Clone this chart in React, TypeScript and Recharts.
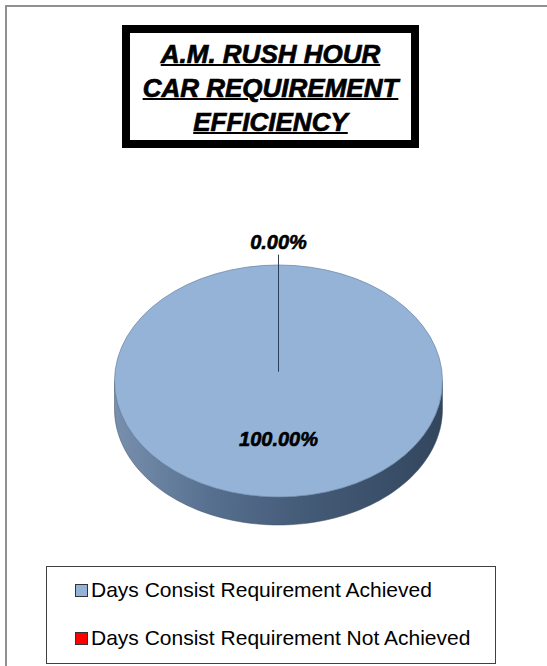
import React from "react";
import { PieChart, Pie, Cell, Legend } from "recharts";

const categories = [
  "Days Consist Requirement Achieved",
  "Days Consist Requirement Not Achieved",
];
const values = [100, 0];
const colors = ["#95B3D7", "#FF0000"];
const titleLines = ["A.M. RUSH HOUR", "CAR REQUIREMENT", "EFFICIENCY"];

const data = categories.map((name, i) => ({ name, value: values[i] }));

const FONT = '"Liberation Sans", Arial, sans-serif';
const TILT = 116 / 164;
const DEPTH = 28;
const RAD = Math.PI / 180;

function pt(cx: number, cy: number, r: number, a: number): [number, number] {
  return [cx + r * Math.cos(-a * RAD), cy + r * TILT * Math.sin(-a * RAD)];
}

// elliptical sector with a 3D side band for the front half
function EllipseSector(props: any) {
  const { cx, cy, outerRadius: r, startAngle, endAngle, fill } = props;
  const span = Math.abs(endAngle - startAngle);
  const ry = r * TILT;
  let top: string;
  if (span >= 359.99) {
    top = `M${cx - r},${cy} A${r},${ry} 0 1 1 ${cx + r},${cy} A${r},${ry} 0 1 1 ${cx - r},${cy} Z`;
  } else if (span < 0.01) {
    return null;
  } else {
    const [x1, y1] = pt(cx, cy, r, startAngle);
    const [x2, y2] = pt(cx, cy, r, endAngle);
    const large = span > 180 ? 1 : 0;
    const sweep = endAngle < startAngle ? 1 : 0;
    top = `M${cx},${cy} L${x1},${y1} A${r},${ry} 0 ${large} ${sweep} ${x2},${y2} Z`;
  }
  // side: sample the arc, keep only the front (lower) part
  const n = 180;
  const front: [number, number][] = [];
  for (let i = 0; i <= n; i++) {
    const a = startAngle + ((endAngle - startAngle) * i) / n;
    if (Math.sin(-a * RAD) >= -1e-9) front.push(pt(cx, cy, r, a));
  }
  let side = "";
  if (front.length > 1) {
    const upper = front.map(([x, y]) => `${x},${y}`).join(" L");
    const lower = [...front]
      .reverse()
      .map(([x, y]) => `${x},${y + DEPTH}`)
      .join(" L");
    side = `M${upper} L${lower} Z`;
  }
  return (
    <g>
      <defs>
        <linearGradient
          id="sideGrad"
          gradientUnits="userSpaceOnUse"
          x1={cx - r}
          y1={0}
          x2={cx + r}
          y2={0}
        >
          <stop offset="0%" stopColor="#7890ae" />
          <stop offset="30%" stopColor="#566f8e" />
          <stop offset="60%" stopColor="#435a76" />
          <stop offset="100%" stopColor="#33465e" />
        </linearGradient>
      </defs>
      {side && <path d={side} fill="url(#sideGrad)" stroke="#3a4c63" strokeWidth={0.5} />}
      <path d={top} fill={fill} stroke="#6c87a9" strokeWidth={0.75} />
    </g>
  );
}

function renderLabel(props: any) {
  const { cx, cy, midAngle, outerRadius: r, percent } = props;
  const txt = `${(percent * 100).toFixed(2)}%`;
  const style = {
    fontFamily: FONT,
    fontWeight: 700,
    fontStyle: "italic" as const,
    fontSize: 20,
  };
  if (percent < 0.05) {
    const [lx, ly] = pt(cx, cy, r * 1.2, midAngle);
    const [ax, ay] = pt(cx, cy, r * 1.09, midAngle);
    const [bx, by] = pt(cx, cy, r * 0.08, midAngle);
    return (
      <g>
        <line x1={ax} y1={ay} x2={bx} y2={by} stroke="#2d3d57" strokeWidth={1} />
        <text
          x={lx}
          y={ly}
          textAnchor="middle"
          dominantBaseline="central"
          fill="#000"
          stroke="#000"
          strokeWidth={0.6}
          style={style}
        >
          {txt}
        </text>
      </g>
    );
  }
  const [lx, ly] = pt(cx, cy, r * 0.5, midAngle);
  return (
    <text
      x={lx}
      y={ly}
      textAnchor="middle"
      dominantBaseline="central"
      fill="#000"
      stroke="#000"
      strokeWidth={0.6}
      style={style}
    >
      {txt}
    </text>
  );
}

function LegendBox() {
  return (
    <div
      style={{
        position: "relative",
        width: 450,
        height: 98,
        boxSizing: "border-box",
        border: "1px solid #404040",
        background: "#fff",
        fontFamily: FONT,
        fontSize: 21,
        color: "#000",
      }}
    >
      {categories.map((c, i) => (
        <div
          key={c}
          style={{
            position: "absolute",
            left: 28,
            top: 10.7 + i * 48,
            lineHeight: "24px",
            whiteSpace: "nowrap",
          }}
        >
          <span
            style={{
              display: "inline-block",
              width: 11,
              height: 11,
              border: "1px solid #333",
              background: colors[i],
              marginRight: 3,
              verticalAlign: "baseline",
            }}
          />
          {c}
        </div>
      ))}
    </div>
  );
}

export default function App() {
  return (
    <div
      style={{
        position: "absolute",
        left: 0,
        top: 0,
        width: 547,
        height: 666,
        overflow: "hidden",
        background: "#fff",
      }}
    >
      <div
        style={{
          position: "absolute",
          left: 5,
          top: 5,
          width: 542,
          height: 661,
          borderLeft: "2px solid #909090",
          borderTop: "2px solid #909090",
          boxSizing: "border-box",
        }}
      />
      <PieChart
        width={547}
        height={666}
        margin={{ top: 0, right: 0, bottom: 0, left: 0 }}
        style={{ position: "absolute", left: 0, top: 0 }}
      >
        <Pie
          data={data}
          dataKey="value"
          nameKey="name"
          cx={278.5}
          cy={381}
          outerRadius={164}
          startAngle={90}
          endAngle={-270}
          stroke="none"
          shape={EllipseSector}
          label={renderLabel}
          labelLine={false}
          isAnimationActive={false}
        >
          {data.map((_, i) => (
            <Cell key={i} fill={colors[i]} />
          ))}
        </Pie>
        <Legend
          content={() => <LegendBox />}
          wrapperStyle={{ position: "absolute", left: 46, top: 566, width: 450, height: 98 }}
        />
      </PieChart>
      <div
        style={{
          position: "absolute",
          left: 122,
          top: 25,
          width: 297,
          height: 123,
          boxSizing: "border-box",
          border: "8px solid #000",
          background: "#fff",
          paddingTop: 4,
          textAlign: "center",
          fontFamily: FONT,
          fontWeight: 700,
          fontStyle: "italic",
          fontSize: 26,
          lineHeight: "34px",
          textDecoration: "underline",
          textDecorationThickness: 2,
          WebkitTextStroke: "0.7px #000",
          color: "#000",
        }}
      >
        {titleLines.map((t) => (
          <div key={t}>{t}</div>
        ))}
      </div>
    </div>
  );
}
